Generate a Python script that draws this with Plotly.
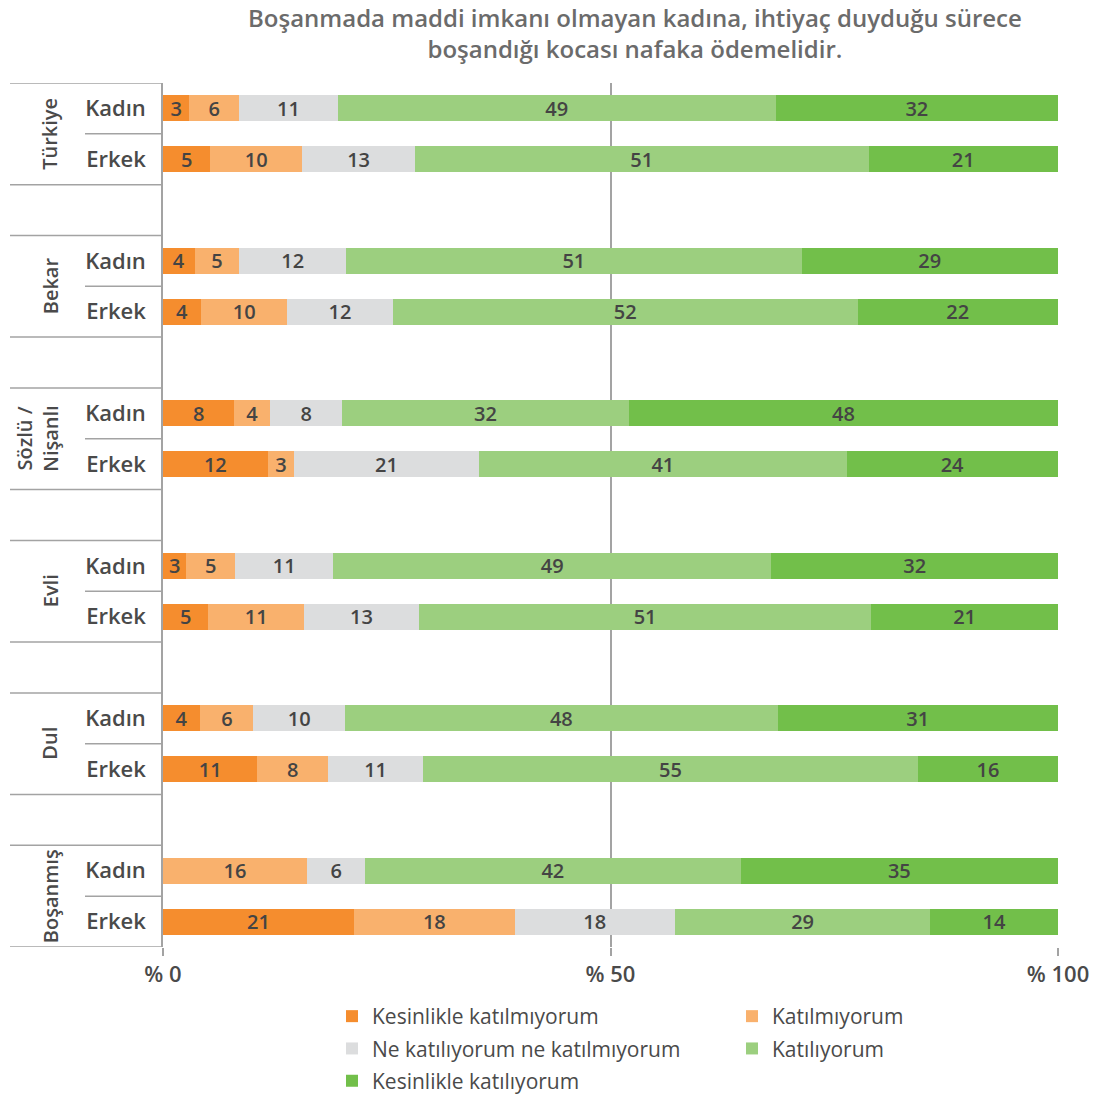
import plotly.graph_objects as go

# ---- data ----
groups = ["Türkiye", "Bekar", "Sözlü /<br>Nişanlı", "Evli", "Dul", "Boşanmış"]
genders = ["Kadın", "Erkek"]
series_names = [
    "Kesinlikle katılmıyorum",
    "Katılmıyorum",
    "Ne katılıyorum ne katılmıyorum",
    "Katılıyorum",
    "Kesinlikle katılıyorum",
]
colors = ["#F58D2E", "#F9B16D", "#DCDDDE", "#9CCF7F", "#72BF4A"]
legend_column = [0, 1, 0, 1, 0]

# rows: Türkiye K, Türkiye E, Bekar K, Bekar E, Sözlü K, Sözlü E, Evli K, Evli E, Dul K, Dul E, Boşanmış K, Boşanmış E
kesinlikle_katilmiyorum = [2.94, 5.28, 3.53, 4.27, 7.96, 11.7, 2.6, 5.06, 4.16, 10.55, None, 21.35]
katilmiyorum = [5.58, 10.27, 4.99, 9.6, 4.02, 2.95, 5.47, 10.71, 5.95, 7.9, 16.1, 17.94]
ne_ne = [11.01, 12.61, 11.94, 11.8, 8.03, 20.65, 10.93, 12.83, 10.24, 10.6, 6.48, 17.89]
katiliyorum = [48.92, 50.67, 50.89, 51.93, 32.03, 41.1, 48.98, 50.53, 48.32, 55.3, 41.96, 28.57]
kesinlikle_katiliyorum = [31.55, 21.17, 28.65, 22.4, 47.96, 23.6, 32.02, 20.87, 31.33, 15.65, 35.46, 14.25]
series_values = [kesinlikle_katilmiyorum, katilmiyorum, ne_ne, katiliyorum, kesinlikle_katiliyorum]

x_tickvals = [0, 50, 100]
x_ticktext = ["% 0", "% 50", "% 100"]

title_text = "Boşanmada maddi imkanı olmayan kadına, ihtiyaç duyduğu sürece<br>boşandığı kocası nafaka ödemelidir."

# ---- layout helpers ----
SLOTS_PER_GROUP = 3
row_pos = []
row_labels = []
for g in range(len(groups)):
    for k, gen in enumerate(genders):
        row_pos.append(g * SLOTS_PER_GROUP + k)
        row_labels.append(gen)
last_slot = max(row_pos)

FONT = "Open Sans"
WT = 600
TXT = "#4a4a4a"
LINE = "#a3a3a3"

FIG_W, FIG_H = 1107, 1097
# plot area in screen pixels (page body margin removed below)
SX0, SX1, SY0, SY1 = 163, 1058, 83, 947
L = SX0
T = SY0
R = FIG_W - SX1
B = FIG_H - SY1
W_PLOT = SX1 - SX0
H_PLOT = SY1 - SY0


def px(sx):
    return (sx - SX0) / W_PLOT


def py(sy):
    return (SY1 - sy) / H_PLOT


fig = go.Figure()
for i, (name, vals, col) in enumerate(zip(series_names, series_values, colors)):
    fig.add_trace(go.Bar(
        name=name,
        x=vals,
        y=row_pos,
        orientation="h",
        width=0.51,
        marker=dict(color=col, line=dict(width=0)),
        texttemplate="%{x:.0f}",
        textposition="inside",
        insidetextanchor="middle",
        textangle=0,
        constraintext="none",
        textfont=dict(family=FONT, size=20, color="#444444", weight=WT),
        hoverinfo="skip",
        legend="legend" if legend_column[i] == 0 else "legend2",
        legendgroup=name,
    ))

shapes = []
for g in range(len(groups)):
    top = g * SLOTS_PER_GROUP - 0.5
    for yv, x0 in [(top, px(10)), (top + 1, px(85)), (top + 2, px(10))]:
        shapes.append(dict(type="line", xref="paper", yref="y", x0=x0, x1=0,
                           y0=yv, y1=yv, line=dict(color=LINE, width=1.5)))

annotations = []
for g, gname in enumerate(groups):
    two_line = "<br>" in gname
    xs = 38 if two_line else 50
    annotations.append(dict(
        text=gname, xref="paper", yref="y",
        x=px(xs), y=g * SLOTS_PER_GROUP + 0.5,
        xanchor="center", yanchor="middle", textangle=-90, showarrow=False,
        font=dict(family=FONT, size=20, color=TXT, weight=WT),
    ))
annotations.append(dict(
    text=title_text, xref="paper", yref="paper",
    x=px(635), y=py(33),
    xanchor="center", yanchor="middle", showarrow=False,
    font=dict(family=FONT, size=24, color="#6b6b6b", weight=WT),
))

legend_common = dict(
    orientation="v", xanchor="left", yanchor="top",
    itemwidth=30, traceorder="grouped", tracegroupgap=2,
    font=dict(family=FONT, size=21, color=TXT), bgcolor="rgba(0,0,0,0)",
)

fig.update_layout(
    width=FIG_W, height=FIG_H, autosize=False,
    margin=dict(l=L, r=R, t=T, b=B, autoexpand=False),
    paper_bgcolor="white", plot_bgcolor="white",
    barmode="stack",
    showlegend=True,
    legend=dict(x=px(332), y=py(996), **legend_common),
    legend2=dict(x=px(732), y=py(996), **legend_common),
    xaxis=dict(
        range=[0, 100], tickvals=x_tickvals, ticktext=x_ticktext,
        showgrid=True, gridcolor=LINE, gridwidth=1.5,
        zeroline=False, showline=False,
        ticks="outside", ticklen=8, tickcolor=LINE, tickwidth=1.5,
        tickfont=dict(family=FONT, size=22, color=TXT, weight=WT),
        fixedrange=True,
    ),
    yaxis=dict(
        range=[last_slot + 0.5, -0.5], tickvals=row_pos, ticktext=row_labels,
        showgrid=False, zeroline=False,
        showline=True, linecolor=LINE, linewidth=1.5,
        ticks="", ticklabelstandoff=11,
        tickfont=dict(family=FONT, size=22, color=TXT, weight=WT),
        fixedrange=True,
    ),
    shapes=shapes,
    annotations=annotations,
    uniformtext=dict(mode=False),
)

fig.write_html(
    "out.html",
    config={"displayModeBar": False},
    post_script="document.body.style.margin='0px';document.body.style.overflow='hidden';",
)
